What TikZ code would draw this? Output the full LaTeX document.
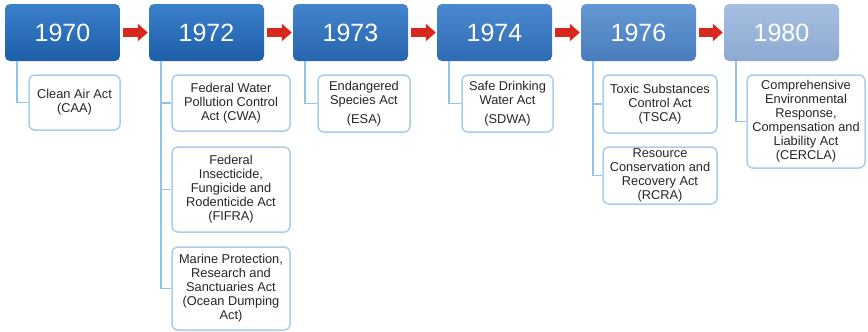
\documentclass[tikz,border=0pt]{standalone}
\usepackage{fontspec}
\setmainfont{Liberation Sans}
\usetikzlibrary{arrows.meta}

\definecolor{lineblue}{HTML}{92C3E8}
\definecolor{boxedge}{HTML}{A9CDEA}
\definecolor{arrowred}{HTML}{D8281E}

\tikzset{
  yearbox/.style={rounded corners=5pt, minimum width=115pt, minimum height=57pt,
    inner sep=0pt, text=white, font=\fontsize{25}{28}\selectfont},
  actbox/.style={draw=boxedge, line width=1.5pt, rounded corners=6pt, fill=white,
    inner sep=0pt, align=center, text=black!85, font=\fontsize{12.8}{14}\selectfont},
  link/.style={draw=lineblue, line width=1.4pt},
  timearrow/.style={arrowred, line width=9pt,
    -{Triangle[length=10pt,width=17pt]}}
}

\begin{document}
\begin{tikzpicture}[x=1pt,y=-1pt]
\useasboundingbox (0,0) rectangle (868,332);

% year boxes along the timeline
\node[yearbox, top color={rgb,255:red,59;green,127;blue,203}, bottom color={rgb,255:red,30;green,94;blue,168}] (y1970) at (62.5,32.5) {1970};
\node[yearbox, top color={rgb,255:red,59;green,127;blue,203}, bottom color={rgb,255:red,30;green,94;blue,168}] (y1972) at (206.5,32.5) {1972};
\node[yearbox, top color={rgb,255:red,67;green,132;blue,205}, bottom color={rgb,255:red,40;green,101;blue,174}] (y1973) at (350.5,32.5) {1973};
\node[yearbox, top color={rgb,255:red,74;green,137;blue,208}, bottom color={rgb,255:red,47;green,107;blue,179}] (y1974) at (494.5,32.5) {1974};
\node[yearbox, top color={rgb,255:red,101;green,151;blue,212}, bottom color={rgb,255:red,74;green,125;blue,189}] (y1976) at (638.5,32.5) {1976};
\node[yearbox, top color={rgb,255:red,166;green,192;blue,226}, bottom color={rgb,255:red,142;green,169;blue,209}] (y1980) at (781.5,32.5) {1980};

% arrows between years
\draw[timearrow] ([xshift=3pt]y1970.east) -- ([xshift=-1pt]y1972.west);
\draw[timearrow] ([xshift=3pt]y1972.east) -- ([xshift=-1pt]y1973.west);
\draw[timearrow] ([xshift=3pt]y1973.east) -- ([xshift=-1pt]y1974.west);
\draw[timearrow] ([xshift=3pt]y1974.east) -- ([xshift=-1pt]y1976.west);
\draw[timearrow] ([xshift=3pt]y1976.east) -- ([xshift=-1pt]y1980.west);

% acts
\node[actbox, minimum width=91pt, minimum height=55pt] (caa) at (74.5,102.5) {Clean Air Act\\(CAA)};
\node[actbox, minimum width=118pt, minimum height=56pt] (cwa) at (231,103) {Federal Water\\Pollution Control\\Act (CWA)};
\node[actbox, minimum width=118pt, minimum height=85pt] (fifra) at (231,189.5) {Federal\\Insecticide,\\Fungicide and\\Rodenticide Act\\(FIFRA)};
\node[actbox, minimum width=118pt, minimum height=83pt] (ocean) at (231,288.5) {Marine Protection,\\Research and\\Sanctuaries Act\\(Ocean Dumping\\Act)};
\node[actbox, minimum width=92pt, minimum height=57pt] (esa) at (364,103.5) {Endangered\\Species Act\\[5pt](ESA)};
\node[actbox, minimum width=91pt, minimum height=57pt] (sdwa) at (507.5,103.5) {Safe Drinking\\Water Act\\[5pt](SDWA)};
\node[actbox, minimum width=114pt, minimum height=58pt] (tsca) at (660,104) {Toxic Substances\\Control Act\\(TSCA)};
\node[actbox, minimum width=114pt, minimum height=57pt] (rcra) at (660,175.5) {Resource\\Conservation and\\Recovery Act\\(RCRA)};
\node[actbox, minimum width=118pt, minimum height=93pt] (cercla) at (806,121.5) {Comprehensive\\Environmental\\Response,\\Compensation and\\Liability Act\\(CERCLA)};

% branch lines from each year to its acts
\path[link] ([xshift=12pt]y1970.south west) |- (caa.west);
\path[link] ([xshift=12pt]y1972.south west) |- (cwa.west);
\path[link] ([xshift=12pt]y1972.south west) |- (fifra.west);
\path[link] ([xshift=12pt]y1972.south west) |- (ocean.west);
\path[link] ([xshift=12pt]y1973.south west) |- (esa.west);
\path[link] ([xshift=12pt]y1974.south west) |- (sdwa.west);
\path[link] ([xshift=12pt]y1976.south west) |- (tsca.west);
\path[link] ([xshift=12pt]y1976.south west) |- (rcra.west);
\path[link] ([xshift=12pt]y1980.south west) |- (cercla.west);
\end{tikzpicture}
\end{document}
